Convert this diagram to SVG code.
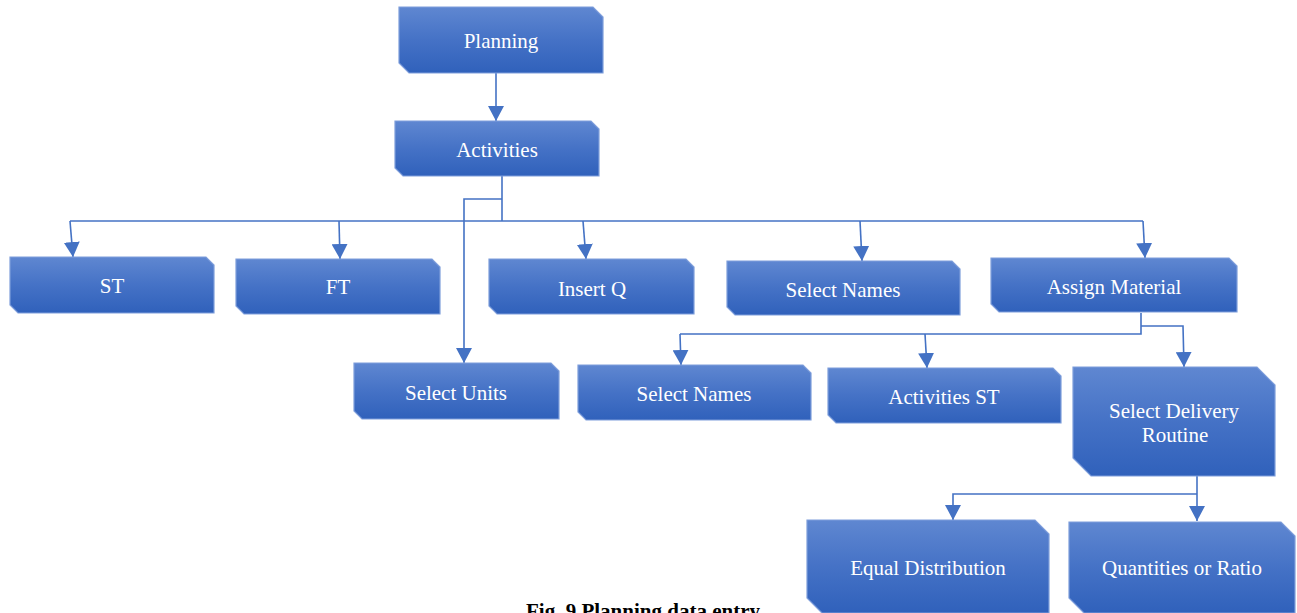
<svg xmlns="http://www.w3.org/2000/svg" width="1297" height="613" viewBox="0 0 1297 613">
  <defs>
    <linearGradient id="boxFill" x1="0" y1="0" x2="0" y2="1">
      <stop offset="0" stop-color="#5f87d1"/>
      <stop offset="0.5" stop-color="#4572c6"/>
      <stop offset="1" stop-color="#3061bb"/>
    </linearGradient>
    <marker id="arrow" viewBox="0 0 15 16" refX="15" refY="8" markerWidth="15" markerHeight="16" markerUnits="userSpaceOnUse" orient="auto">
      <path d="M0,0 L15,8 L0,16 Z" fill="#4472c4"/>
    </marker>
  </defs>
  <style>
    .box { fill: url(#boxFill); stroke: #7e9edb; stroke-width: 1.2; }
    .label { fill: #ffffff; font-family: "Liberation Serif", "Times New Roman", serif; font-size: 21px; text-anchor: middle; }
    .link { fill: none; stroke: #4472c4; stroke-width: 1.6; }
    .arr { marker-end: url(#arrow); }
    .caption { fill: #000000; font-family: "Liberation Serif", "Times New Roman", serif; font-size: 21px; font-weight: bold; text-anchor: middle; }
  </style>
  <rect width="1297" height="613" fill="#ffffff"/>

  <!-- connectors -->
  <g id="connectors">
    <line class="link arr" x1="496" y1="73" x2="496" y2="121"/>
    <polyline class="link" points="502,176 502,221"/>
    <line class="link" x1="70" y1="221" x2="1143" y2="221"/>
    <line class="link arr" x1="70" y1="221" x2="73" y2="257"/>
    <line class="link arr" x1="339" y1="221" x2="340" y2="259"/>
    <line class="link arr" x1="583" y1="221" x2="586" y2="259"/>
    <line class="link arr" x1="860" y1="221" x2="862" y2="261"/>
    <line class="link arr" x1="1143" y1="221" x2="1145" y2="258"/>
    <polyline class="link arr" points="502,199 464,199 464,363"/>
    <polyline class="link" points="1141,313 1141,334 680,334"/>
    <line class="link arr" x1="680" y1="334" x2="681" y2="365"/>
    <line class="link arr" x1="925" y1="334" x2="927" y2="368"/>
    <polyline class="link arr" points="1141,326 1183,326 1184,367"/>
    <line class="link arr" x1="1197" y1="476" x2="1197" y2="521"/>
    <polyline class="link arr" points="1197,494 953,494 953,520"/>
  </g>

  <!-- nodes -->
  <g id="node-planning">
    <path class="box" d="M399,7 L593,7 L603,17 L603,73 L409,73 L399,63 Z"/>
    <text class="label" x="501" y="48">Planning</text>
  </g>
  <g id="node-activities">
    <path class="box" d="M395,121 L591,121 L599,129 L599,176 L403,176 L395,168 Z"/>
    <text class="label" x="497" y="157">Activities</text>
  </g>
  <g id="node-st">
    <path class="box" d="M10,257 L206,257 L214,265 L214,313 L18,313 L10,305 Z"/>
    <text class="label" x="112" y="293">ST</text>
  </g>
  <g id="node-ft">
    <path class="box" d="M236,259 L432,259 L440,267 L440,314 L244,314 L236,306 Z"/>
    <text class="label" x="338" y="294">FT</text>
  </g>
  <g id="node-insert-q">
    <path class="box" d="M489,259 L686,259 L694,267 L694,314 L497,314 L489,306 Z"/>
    <text class="label" x="592" y="296">Insert Q</text>
  </g>
  <g id="node-select-names-1">
    <path class="box" d="M727,261 L952,261 L960,269 L960,315 L735,315 L727,307 Z"/>
    <text class="label" x="843" y="297">Select Names</text>
  </g>
  <g id="node-assign-material">
    <path class="box" d="M991,258 L1229,258 L1237,266 L1237,312 L999,312 L991,304 Z"/>
    <text class="label" x="1114" y="294">Assign Material</text>
  </g>
  <g id="node-select-units">
    <path class="box" d="M354,363 L551,363 L559,371 L559,419 L362,419 L354,411 Z"/>
    <text class="label" x="456" y="400">Select Units</text>
  </g>
  <g id="node-select-names-2">
    <path class="box" d="M578,365 L803,365 L811,373 L811,420 L586,420 L578,412 Z"/>
    <text class="label" x="694" y="401">Select Names</text>
  </g>
  <g id="node-activities-st">
    <path class="box" d="M828,368 L1053,368 L1061,376 L1061,423 L836,423 L828,415 Z"/>
    <text class="label" x="944" y="404">Activities ST</text>
  </g>
  <g id="node-select-delivery">
    <path class="box" d="M1073,367 L1257,367 L1275,385 L1275,476 L1091,476 L1073,458 Z"/>
    <text class="label" x="1174" y="418">Select Delivery</text>
    <text class="label" x="1175" y="442">Routine</text>
  </g>
  <g id="node-equal-distribution">
    <path class="box" d="M807,520 L1035,520 L1049,534 L1049,613 L822,613 L807,598 Z"/>
    <text class="label" x="928" y="575">Equal Distribution</text>
  </g>
  <g id="node-quantities-ratio">
    <path class="box" d="M1069,522 L1281,522 L1295,536 L1295,613 L1084,613 L1069,598 Z"/>
    <text class="label" x="1182" y="575">Quantities or Ratio</text>
  </g>

  <text class="caption" x="643" y="618">Fig. 9 Planning data entry</text>
</svg>
